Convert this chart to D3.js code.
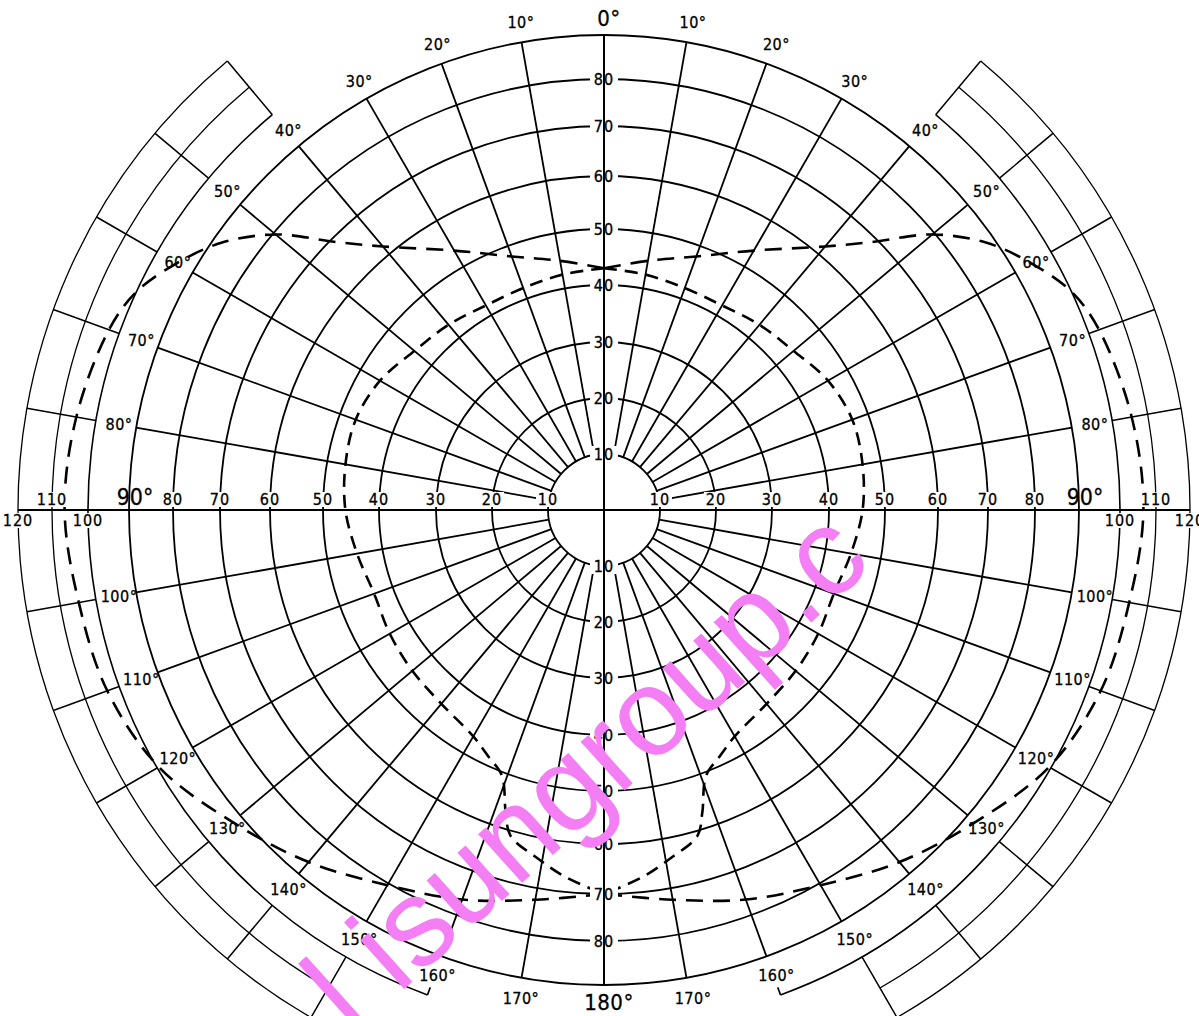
<!DOCTYPE html>
<html>
<head>
<meta charset="utf-8">
<script src="https://cdnjs.cloudflare.com/ajax/libs/d3/7.8.5/d3.min.js"></script>
<style>
  body { margin: 0; background: #fff; }
  svg { display: block; }
</style>
</head>
<body>
<div id="chart"></div>
<script>
// grid
const ringValues = [10, 20, 30, 40, 50, 60, 70, 80, 90];
const earRingValues = [100, 110, 120];
const spokeAngles = [10, 20, 30, 40, 50, 60, 70, 80, 100, 110, 120, 130, 140, 150, 160, 170];
const earSpokeAngles = [40, 50, 60, 70, 80, 100, 110, 120, 130, 140, 150];
const degreeLabels = [0, 10, 20, 30, 40, 50, 60, 70, 80, 100, 110, 120, 130, 140, 150, 160, 170, 180];
const verticalTicks = [10, 20, 30, 40, 50, 60, 70, 80];
const horizontalTicks = [10, 20, 30, 40, 50, 60, 70, 80, 100, 110, 120];

// curves (one half, mirrored about the 0-180 axis)
const outerAngles = [0, 10, 20, 30, 40, 45, 50, 55, 60, 65, 70, 80, 90, 100, 110, 120, 130, 140, 150, 160, 170, 180];
const outerValues = [43, 45, 48, 53.5, 62, 69, 79.5, 88, 94.5, 100, 103, 105.5, 106.5, 104.8, 103.5, 99.5, 92.5, 86.5, 80.5, 76.5, 72.5, 70];
const innerAngles = [0, 10, 20, 30, 40, 50, 60, 70, 80, 90, 100, 110, 120, 130, 140, 150, 155, 159, 162, 164, 169, 174, 180];
const innerValues = [43, 42.5, 42, 42, 43, 44, 46, 47, 46.7, 46, 44.6, 43.5, 44, 44.5, 45, 46.5, 48.5, 50.7, 57, 61, 64, 67, 70];

const width = 1199, height = 1016;
const cx = 604, cy = 510;

const r = d3.scaleLinear()
    .domain([0, 10, 20, 30, 40, 50, 60, 70, 80, 90, 100, 110, 120])
    .range([0, 56, 112, 168, 225, 281, 334, 384, 431, 475, 516, 552, 586]);

const rad = d => d * Math.PI / 180;
const font = "'DejaVu Sans Condensed', 'DejaVu Sans', sans-serif";

const svg = d3.select("#chart")
    .append("svg")
    .attr("width", width)
    .attr("height", height);

svg.append("rect").attr("width", width).attr("height", height).attr("fill", "#fff");

const g = svg.append("g").attr("transform", `translate(${cx},${cy})`);

// main rings
g.selectAll("circle.ring")
    .data(ringValues)
    .join("circle")
    .attr("class", "ring")
    .attr("r", d => r(d))
    .attr("fill", "none")
    .attr("stroke", "#000")
    .attr("stroke-width", 1.8);

// spokes
const spokes = [];
spokeAngles.forEach(a => [1, -1].forEach(s => spokes.push({ a: s * rad(a), r0: r(10), r1: r(90) })));
earSpokeAngles.forEach(a => [1, -1].forEach(s => spokes.push({ a: s * rad(a), r0: r(100), r1: r(120) })));

g.selectAll("line.spoke")
    .data(spokes)
    .join("line")
    .attr("class", "spoke")
    .attr("x1", d => d3.pointRadial(d.a, d.r0)[0])
    .attr("y1", d => d3.pointRadial(d.a, d.r0)[1])
    .attr("x2", d => d3.pointRadial(d.a, d.r1)[0])
    .attr("y2", d => d3.pointRadial(d.a, d.r1)[1])
    .attr("stroke", "#000")
    .attr("stroke-width", d => d.r0 > r(95) ? 1.5 : 1.8);

// ear arcs
const earArcs = [];
earRingValues.forEach(v => {
    const end = v === 100 ? 160 : 150;
    earArcs.push({ v, a0: rad(40), a1: rad(end) });
    earArcs.push({ v, a0: -rad(end), a1: -rad(40) });
});
g.selectAll("path.ear")
    .data(earArcs)
    .join("path")
    .attr("class", "ear")
    .attr("d", d => d3.arc().innerRadius(r(d.v)).outerRadius(r(d.v)).startAngle(d.a0).endAngle(d.a1)())
    .attr("fill", "none")
    .attr("stroke", "#000")
    .attr("stroke-width", d => d.v === 100 ? 1.6 : 1.3);

// little hooks at the end of ring 100
g.selectAll("line.hook")
    .data([rad(160), -rad(160)])
    .join("line")
    .attr("x1", d => d3.pointRadial(d, r(100))[0])
    .attr("y1", d => d3.pointRadial(d, r(100))[1])
    .attr("x2", d => d3.pointRadial(d, r(100) - 8)[0])
    .attr("y2", d => d3.pointRadial(d, r(100) - 8)[1])
    .attr("stroke", "#000")
    .attr("stroke-width", 1.6);

// dashed curves
const radial = d3.lineRadial().curve(d3.curveCatmullRom);
[
    { angles: outerAngles, values: outerValues, dash: "17,10" },
    { angles: innerAngles, values: innerValues, dash: "13,8" }
].forEach(c => {
    [1, -1].forEach(s => {
        g.append("path")
            .attr("d", radial(c.angles.map((a, i) => [s * rad(a), r(c.values[i])])))
            .attr("fill", "none")
            .attr("stroke", "#000")
            .attr("stroke-width", 2.6)
            .attr("stroke-dasharray", c.dash);
    });
});

// vertical axis labels (with white backing)
const vLabels = [];
verticalTicks.forEach(v => { vLabels.push({ v, y: -r(v) }); vLabels.push({ v, y: r(v) }); });
g.selectAll("rect.vbg")
    .data(vLabels)
    .join("rect")
    .attr("x", -14).attr("y", d => d.y - 8)
    .attr("width", 28).attr("height", 16)
    .attr("fill", "#fff");

// horizontal axis labels
const hLabels = [];
horizontalTicks.forEach(v => [1, -1].forEach(s => hLabels.push({ v, x: s * r(v), below: v === 100 || v === 120 })));
g.selectAll("rect.hbg")
    .data(hLabels)
    .join("rect")
    .attr("x", d => d.x - (d.v >= 100 ? 17 : 12))
    .attr("y", d => d.below ? 3 : -18)
    .attr("width", d => d.v >= 100 ? 34 : 24)
    .attr("height", 15)
    .attr("fill", "#fff");

// axes
g.append("line")
    .attr("x1", 0).attr("y1", -r(90)).attr("x2", 0).attr("y2", r(90))
    .attr("stroke", "#000").attr("stroke-width", 2);
g.append("line")
    .attr("x1", -r(120)).attr("y1", 0).attr("x2", r(120)).attr("y2", 0)
    .attr("stroke", "#000").attr("stroke-width", 2.2);

g.selectAll("text.vlab")
    .data(vLabels)
    .join("text")
    .attr("x", 0).attr("y", d => d.y)
    .attr("dy", "0.36em")
    .attr("text-anchor", "middle")
    .attr("font-family", font)
    .attr("font-size", 16)
    .attr("letter-spacing", 1)
    .attr("stroke", "#000").attr("stroke-width", 0.3)
    .text(d => d.v);

g.selectAll("text.hlab")
    .data(hLabels)
    .join("text")
    .attr("x", d => d.x)
    .attr("y", d => d.below ? 16 : -5)
    .attr("text-anchor", "middle")
    .attr("font-family", font)
    .attr("font-size", 16)
    .attr("letter-spacing", 1)
    .attr("stroke", "#000").attr("stroke-width", 0.3)
    .text(d => d.v);

// 90° labels on the horizontal axis
g.selectAll("text.ninety")
    .data([1, -1])
    .join("text")
    .attr("x", s => s * r(90) + 6)
    .attr("y", -5)
    .attr("text-anchor", "middle")
    .attr("font-family", font)
    .attr("font-size", 23)
    .attr("stroke", "#000").attr("stroke-width", 0.3)
    .text("90°");

// degree labels around the diagram
const dLabels = [];
degreeLabels.forEach(a => {
    if (a === 0 || a === 180) dLabels.push({ a, ang: rad(a), big: true });
    else [1, -1].forEach(s => dLabels.push({ a, ang: s * rad(a), big: false }));
});
g.selectAll("text.deg")
    .data(dLabels)
    .join("text")
    .attr("x", d => d3.pointRadial(d.ang, d.big ? r(94.2) : r(95))[0] + (d.big ? 5 : 3))
    .attr("y", d => d3.pointRadial(d.ang, d.big ? r(94.2) : r(95))[1])
    .attr("dy", "0.36em")
    .attr("text-anchor", "middle")
    .attr("font-family", font)
    .attr("font-size", d => d.big ? 22 : 16)
    .attr("letter-spacing", 0.5)
    .attr("stroke", "#000").attr("stroke-width", 0.3)
    .text(d => d.a + "°");

// watermark
svg.append("text")
    .attr("transform", "translate(352,1036) rotate(-42)")
    .attr("font-family", "'Liberation Sans', Arial, sans-serif")
    .attr("font-size", 124)
    .attr("fill", "#f47ef4")
    .text("l isungroup.c");
</script>
</body>
</html>
